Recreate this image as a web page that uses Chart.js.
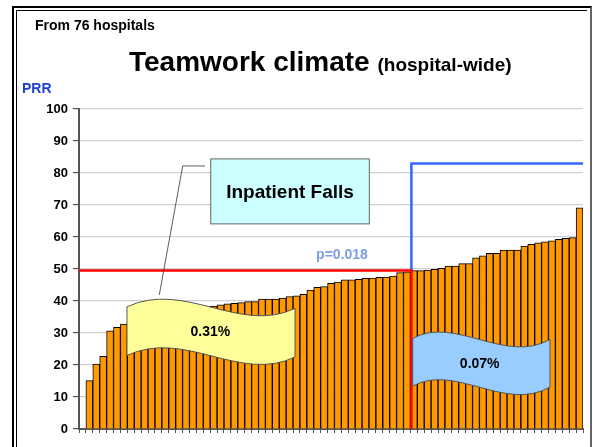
<!DOCTYPE html>
<html>
<head>
<meta charset="utf-8">
<script src="https://cdn.jsdelivr.net/npm/chart.js@4.4.1/dist/chart.umd.min.js"></script>
<style>
  body { margin: 0; background: #fff; font-family: "Liberation Sans", Arial, sans-serif; }
  #wrap { position: relative; width: 601px; height: 447px; overflow: hidden; }
  canvas { position: absolute; left: 0; top: 0; }
  .txt { position: absolute; font-weight: bold; white-space: nowrap; }
  .frameOut { position: absolute; left: 12px; top: 6px; width: 576px; height: 450px; border: 2px solid #000; border-right-color: #666; }
  .frameIn { position: absolute; left: 16px; top: 10px; width: 570px; height: 446px; border: 1px solid #000; border-right: none; }
</style>
</head>
<body>
<div id="wrap">
  <canvas id="chart" width="601" height="447"></canvas>
  <div class="frameOut"></div>
  <div class="frameIn"></div>
  <div class="txt" style="left:35px; top:17px; font-size:14px;">From 76 hospitals</div>
  <div class="txt" style="left:129px; top:46px; font-size:28px;">Teamwork climate <span style="font-size:19px;">(hospital-wide)</span></div>
  <div class="txt" style="left:22px; top:80px; font-size:14px; color:#1f3fd0;">PRR</div>
</div>
<script>
// teamwork climate score per hospital, sorted, split at the falls threshold
const leftGroup = [15.1, 20.3, 22.7, 30.7, 31.8, 32.8, 33.2, 33.6, 34.0, 34.5, 35.0, 35.4, 35.8, 36.3, 36.8, 37.2,
  37.6, 38.0, 38.4, 38.8, 39.1, 39.3, 39.5, 39.8, 39.8, 40.6, 40.6, 40.6, 40.9, 41.4, 41.6, 42.1, 43.4, 44.3, 44.5,
  45.5, 45.9, 46.6, 46.6, 46.8, 47.1, 47.2, 47.4, 47.5, 47.8, 48.9, 49.1];
const rightGroup = [49.5, 49.5, 49.7, 49.9, 50.2, 50.9, 50.9, 51.7, 51.7, 53.5, 54.1, 54.9, 54.9, 55.9, 55.9, 55.9,
  57.2, 57.7, 58.2, 58.5, 58.8, 59.3, 59.6, 59.8, 69.1];
const yTicks = [0, 10, 20, 30, 40, 50, 60, 70, 80, 90, 100];
const redLevel = 49.5;
const blueLevel = 83;
const leftRate = '0.31%';
const rightRate = '0.07%';
const pValue = 'p=0.018';

// first slot is left empty like in the original
const labels = [''].concat(leftGroup.concat(rightGroup).map((v, i) => String(i + 1)));
const values = [null].concat(leftGroup, rightGroup);
const split = leftGroup.length + 0.5;

function wave(ctx, X, Y, s, depth, fill) {
  // s: [x0,y0, cx1,cy1, cx2,cy2, x1,y1] in data units
  ctx.beginPath();
  ctx.moveTo(X(s[0]), Y(s[1]));
  ctx.bezierCurveTo(X(s[2]), Y(s[3]), X(s[4]), Y(s[5]), X(s[6]), Y(s[7]));
  ctx.lineTo(X(s[6]), Y(s[7] - depth));
  ctx.bezierCurveTo(X(s[4]), Y(s[5] - depth), X(s[2]), Y(s[3] - depth), X(s[0]), Y(s[1] - depth));
  ctx.closePath();
  ctx.fillStyle = fill;
  ctx.fill();
  ctx.strokeStyle = '#555';
  ctx.lineWidth = 1;
  ctx.stroke();
}

const notes = {
  id: 'notes',
  afterDatasetsDraw(chart) {
    const ctx = chart.ctx;
    const X = v => chart.scales.x.getPixelForValue(v);
    const Y = v => chart.scales.y.getPixelForValue(v);
    const area = chart.chartArea;
    ctx.save();

    // blue step
    ctx.strokeStyle = '#3366ff';
    ctx.lineWidth = 2.5;
    ctx.beginPath();
    ctx.moveTo(X(split) + 1, Y(redLevel));
    ctx.lineTo(X(split) + 1, Y(blueLevel));
    ctx.lineTo(area.right, Y(blueLevel));
    ctx.stroke();

    // red step
    ctx.strokeStyle = '#ff0000';
    ctx.beginPath();
    ctx.moveTo(area.left, Y(redLevel));
    ctx.lineTo(X(split) + 1, Y(redLevel));
    ctx.lineTo(X(split) + 1, area.bottom);
    ctx.stroke();

    // leader line + callout box
    ctx.strokeStyle = '#333';
    ctx.lineWidth = 0.8;
    ctx.beginPath();
    ctx.moveTo(X(17.75), Y(82.2));
    ctx.lineTo(X(14.52), Y(82.2));
    ctx.lineTo(X(11.13), Y(41.9));
    ctx.stroke();

    const bx = X(18.58), by = Y(84.4);
    const bw = X(41.55) - bx, bh = Y(64.1) - by;
    ctx.fillStyle = '#ccffff';
    ctx.fillRect(bx, by, bw, bh);
    ctx.strokeStyle = '#666';
    ctx.lineWidth = 1;
    ctx.strokeRect(bx, by, bw, bh);
    ctx.fillStyle = '#000';
    ctx.font = 'bold 19px "Liberation Sans", Arial, sans-serif';
    ctx.textAlign = 'center';
    ctx.textBaseline = 'middle';
    ctx.fillText('Inpatient Falls', bx + bw / 2, by + bh / 2 + 1);

    // wavy labels
    wave(ctx, X, Y, [6.45, 38.2, 14.85, 46.6, 22.82, 29.4, 30.79, 37.7], 15.2, '#ffff99');
    wave(ctx, X, Y, [47.83, 28.3, 53.96, 35.6, 61.2, 20.0, 67.72, 28.0], 14.9, '#99ccff');

    ctx.fillStyle = '#000';
    ctx.font = 'bold 14px "Liberation Sans", Arial, sans-serif';
    ctx.fillText(leftRate, X(18.52), Y(30.2));
    ctx.fillText(rightRate, X(57.54), Y(20.3));

    ctx.fillStyle = '#7f9fe0';
    ctx.fillText(pValue, X(37.59), Y(54.2));
    ctx.restore();
  }
};

new Chart(document.getElementById('chart'), {
  type: 'bar',
  data: {
    labels: labels,
    datasets: [{
      data: values,
      backgroundColor: '#ff9900',
      borderColor: '#000',
      borderWidth: 1,
      categoryPercentage: 1,
      barPercentage: 1
    }]
  },
  options: {
    responsive: false,
    animation: false,
    events: [],
    layout: { padding: { left: 0, right: 18, top: 109, bottom: 8 } },
    plugins: { legend: { display: false }, tooltip: { enabled: false } },
    scales: {
      x: {
        grid: { display: true, drawOnChartArea: false, tickLength: 4, color: '#555', tickColor: '#555' },
        border: { color: '#555', width: 2 },
        ticks: { display: false },
        afterFit(scale) { scale.height = 10; }
      },
      y: {
        min: 0,
        max: 100,
        afterBuildTicks(scale) { scale.ticks = yTicks.map(v => ({ value: v })); },
        grid: { color: '#d0d0d0', tickColor: '#555', tickLength: 6, lineWidth: 1.2 },
        border: { color: '#555', width: 2 },
        ticks: {
          color: '#000',
          padding: 5,
          font: { family: '"Liberation Sans", Arial, sans-serif', size: 13, weight: 'bold' }
        },
        afterFit(scale) { scale.width = 79; }
      }
    }
  },
  plugins: [notes]
});
</script>
</body>
</html>
